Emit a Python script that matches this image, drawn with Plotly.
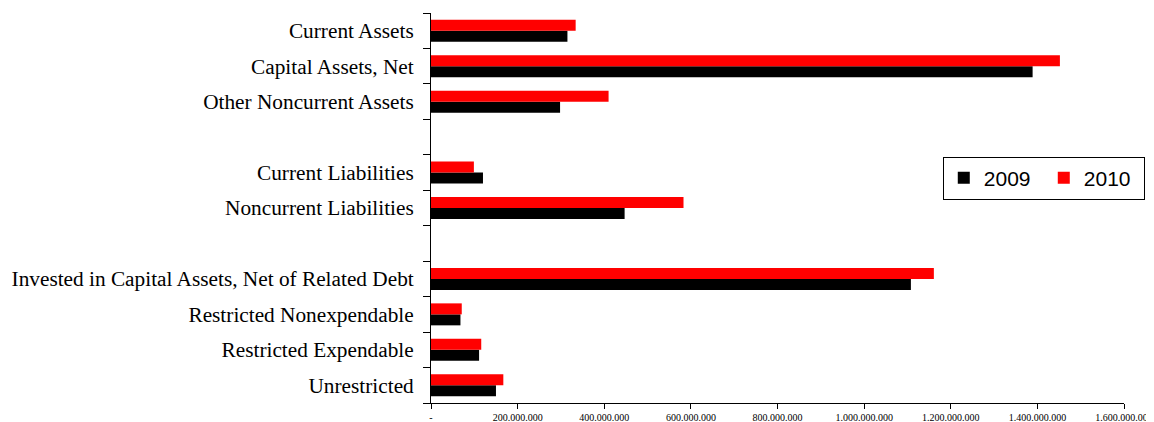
import plotly.graph_objects as go

categories = [
    "Current Assets",
    "Capital Assets, Net",
    "Other Noncurrent Assets",
    " ",
    "Current Liabilities",
    "Noncurrent Liabilities",
    "  ",
    "Invested in Capital Assets, Net of Related Debt",
    "Restricted Nonexpendable",
    "Restricted Expendable",
    "Unrestricted",
]
values_2009 = [315e6, 1389e6, 298e6, None, 120e6, 447e6, None, 1108e6, 68e6, 111e6, 150e6]
values_2010 = [334e6, 1452e6, 410e6, None, 99e6, 583e6, None, 1161e6, 71e6, 116e6, 167e6]

tick_vals = [0, 200e6, 400e6, 600e6, 800e6, 1000e6, 1200e6, 1400e6, 1600e6]
tick_text = ["-", "200.000.000", "400.000.000", "600.000.000", "800.000.000",
             "1.000.000.000", "1.200.000.000", "1.400.000.000", "1.600.000.000"]

fig = go.Figure()
fig.add_trace(go.Bar(y=categories, x=values_2009, name="2009", orientation="h",
                     marker=dict(color="#000000", line=dict(width=0))))
fig.add_trace(go.Bar(y=categories, x=values_2010, name="2010", orientation="h",
                     marker=dict(color="#FF0000", line=dict(width=0))))

# page body has an 8px default margin; the figure is sized to fit the window
fig.update_layout(
    width=1146, height=414,
    margin=dict(l=422.5, r=29.5, t=4.7, b=19.3, autoexpand=False),
    paper_bgcolor="white", plot_bgcolor="white",
    barmode="group", bargap=0.38, bargroupgap=0,
    showlegend=True,
    legend=dict(
        orientation="h", x=0.7385, y=0.632, xanchor="left", yanchor="top",
        bordercolor="black", borderwidth=1, bgcolor="white",
        font=dict(family="Liberation Sans, Arial", size=21, color="black"),
        traceorder="normal", itemwidth=30, entrywidth=55, entrywidthmode="pixels",
    ),
    xaxis=dict(
        range=[0, 1600e6], tickvals=tick_vals, ticktext=tick_text,
        showgrid=False, zeroline=False, showline=True, linecolor="black", linewidth=1,
        ticks="outside", ticklen=5, tickcolor="black", automargin=False,
        ticklabeloverflow="allow",
        tickfont=dict(family="Liberation Serif, Times New Roman", size=10, color="black"),
    ),
    yaxis=dict(
        categoryorder="array", categoryarray=list(reversed(categories)),
        showgrid=False, zeroline=False, showline=True, linecolor="black", linewidth=1,
        ticks="outside", ticklen=7, tickcolor="black", tickson="boundaries",
        automargin=False,
        tickfont=dict(family="Liberation Serif, Times New Roman", size=21.3, color="black"),
        ticklabelstandoff=12,
    ),
)

fig.write_html("out.html")
